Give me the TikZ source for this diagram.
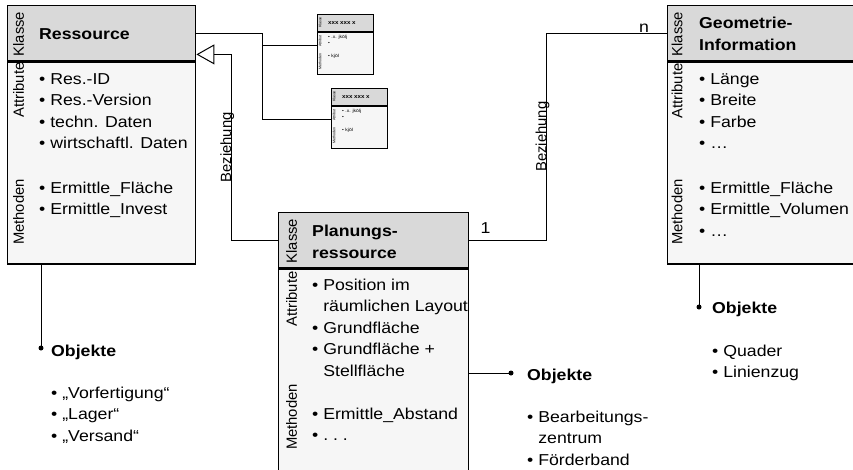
\documentclass[tikz,border=0pt]{standalone}
\usepackage{fontspec}
\setmainfont{Liberation Sans}[FakeStretch=1.12]
\newfontfamily\rotfont{Liberation Sans}
\usetikzlibrary{arrows.meta,calc}

\definecolor{headgray}{RGB}{217,217,217}
\definecolor{bodygray}{RGB}{246,246,246}

\tikzset{
  clshead/.style={draw, line width=1.4pt, fill=headgray, inner sep=0pt, anchor=north west},
  clsbody/.style={clshead, fill=bodygray},
  clspart/.style={rotate=90, inner sep=0pt, font=\rotfont\fontsize{14.8}{17}\selectfont},
  clsname/.style={anchor=base west, inner sep=0pt, font=\fontsize{15.8}{21.5}\selectfont\bfseries},
  clsitem/.style={anchor=base west, inner sep=0pt},
  relline/.style={line width=1pt},
  rellabel/.style={rotate=90, anchor=base, inner sep=0pt, font=\rotfont\fontsize{14.8}{17}\selectfont},
  minihead/.style={draw, line width=0.8pt, fill=headgray, inner sep=0pt, anchor=north west},
  minibody/.style={minihead, fill=bodygray},
  minipart/.style={rotate=90, inner sep=0pt, font=\rotfont\fontsize{3.6}{4}\selectfont},
  minitext/.style={anchor=west, inner sep=0pt, font=\fontsize{4.5}{5}\selectfont},
}

\begin{document}
\begin{tikzpicture}[x=1pt, y=-1pt, font=\fontsize{15.8}{21.5}\selectfont]
  \fill[white] (0,0) rectangle (853,469);
  \path[use as bounding box, clip] (0,0) rectangle (853,469);

  % Ressource
  \node[clshead, minimum width=188, minimum height=55] (res-head) at (7,5) {};
  \node[clsbody, minimum width=188, minimum height=202] (res-body) at (res-head.south west) {};
  \node[clspart] (res-k) at (18.5,34) {Klasse};
  \node[clspart] (res-a) at (18.5,90) {Attribute};
  \node[clspart] (res-m) at (18.5,212) {Methoden};
  \node[clsname] (res-name) at (39,39) {Ressource};
  \foreach \t [count=\i] in {• Res.-ID, • Res.-Version, • techn. Daten, • wirtschaftl. Daten}
    \node[clsitem] (res-att\i) at (39,62.5+21.5*\i) {\t};
  \foreach \t [count=\i] in {• Ermittle\_Fläche, • Ermittle\_Invest}
    \node[clsitem] (res-met\i) at (39,171.5+21.5*\i) {\t};

  % Geometrie-Information
  \node[clshead, minimum width=200, minimum height=55] (geo-head) at (667,5) {};
  \node[clsbody, minimum width=200, minimum height=202] (geo-body) at (geo-head.south west) {};
  \node[clspart] (geo-k) at (677,34) {Klasse};
  \node[clspart] (geo-a) at (677,91) {Attribute};
  \node[clspart] (geo-m) at (677,212) {Methoden};
  \foreach \t [count=\i] in {Geometrie-, Information}
    \node[clsname] (geo-name\i) at (699,6+22*\i) {\t};
  \foreach \t [count=\i] in {• Länge, • Breite, • Farbe, • \ldots}
    \node[clsitem] (geo-att\i) at (699,62.5+21.5*\i) {\t};
  \foreach \t [count=\i] in {• Ermittle\_Fläche, • Ermittle\_Volumen, • \ldots}
    \node[clsitem] (geo-met\i) at (699,171.5+21.5*\i) {\t};

  % Planungsressource
  \node[clshead, minimum width=190, minimum height=55] (plan-head) at (278,212) {};
  \node[clsbody, minimum width=190, minimum height=230] (plan-body) at (plan-head.south west) {};
  \node[clspart] (plan-k) at (291.5,241) {Klasse};
  \node[clspart] (plan-a) at (291.5,299) {Attribute};
  \node[clspart] (plan-m) at (291.5,417) {Methoden};
  \foreach \t [count=\i] in {Planungs-, ressource}
    \node[clsname] (plan-name\i) at (312,215+21.5*\i) {\t};
  \foreach \t [count=\i] in {• Position im, \phantom{• }räumlichen Layout, • Grundfläche,
                             • Grundfläche +, \phantom{• }Stellfläche}
    \node[clsitem] (plan-att\i) at (312,268.5+21.5*\i) {\t};
  \foreach \t [count=\i] in {• Ermittle\_Abstand, • .\ .\ .}
    \node[clsitem] (plan-met\i) at (312,397.5+21.5*\i) {\t};

  % kleine Klassen
  \foreach \n/\x/\y in {sa/317/14, sb/331/88} {
    \node[minihead, minimum width=56, minimum height=17] (\n-head) at (\x,\y) {};
    \node[minibody, minimum width=56, minimum height=42] (\n-body) at (\n-head.south west) {};
    \node[minipart] (\n-k) at (\x+3,\y+8.5) {Klasse};
    \node[minipart] (\n-a) at (\x+3,\y+27) {Attribut};
    \node[minipart] (\n-m) at (\x+3,\y+47) {Methoden};
    \node[minitext, font=\bfseries\fontsize{5.5}{6}\selectfont] (\n-name) at (\x+11,\y+9) {xxx xxx x};
    \node[minitext] (\n-i1) at (\x+11,\y+23) {• .x. jkölj};
    \node[minitext] (\n-i2) at (\x+11,\y+29) {•};
    \node[minitext] (\n-i3) at (\x+11,\y+42) {• kjöl};
    \coordinate (\n-in) at ([yshift=8pt]\n-body.west);
  }

  % Beziehungen
  \coordinate (res-gen) at ($(res-head.south east)+(0,-7)$);
  \draw[relline, -{Triangle[open, fill=white, length=18pt, width=20pt]}]
    (plan-head.west) -- ++(-47,0) |- node[pos=0.25, rellabel] (rel-a) {Beziehung} (res-gen);
  \draw[relline] (plan-head.east) -- ++(77,0) |- node[pos=0.25, rellabel] (rel-b) {Beziehung} (geo-head.west);
  \node[clsitem] (mult-one) at ($(plan-head.east)+(11,-6.5)$) {1};
  \node[clsitem] (mult-n) at ($(geo-head.west)+(-28,-0.5)$) {n};

  \draw[relline] (res-head.east) -- ++(66,0) coordinate (fork) |- (sb-in);
  \draw[relline] (fork |- sa-in) -- (sa-in);

  % Objekte
  \coordinate (res-dot) at (41,348);
  \coordinate (geo-dot) at (699,307);
  \coordinate (plan-dot) at (511,373);
  \draw[relline] (res-body.south -| res-dot) -- (res-dot);
  \draw[relline] (geo-body.south -| geo-dot) -- (geo-dot);
  \draw[relline] (plan-body.east |- plan-dot) -- (plan-dot);
  \foreach \d in {res-dot, geo-dot, plan-dot}
    \fill (\d) circle (2.5pt);

  \node[clsname] (res-obj) at (51,356) {Objekte};
  \foreach \t [count=\i] in {• „Vorfertigung“, • „Lager“, • „Versand“}
    \node[clsitem] (res-ob\i) at (51,376.5+21.5*\i) {\t};
  \node[clsname] (geo-obj) at (712,313) {Objekte};
  \foreach \t [count=\i] in {• Quader, • Linienzug}
    \node[clsitem] (geo-ob\i) at (712,334.5+21.5*\i) {\t};
  \node[clsname] (plan-obj) at (527,380) {Objekte};
  \foreach \t [count=\i] in {• Bearbeitungs-, \phantom{• }zentrum, • Förderband}
    \node[clsitem] (plan-ob\i) at (527,400.5+21.5*\i) {\t};
\end{tikzpicture}
\end{document}
